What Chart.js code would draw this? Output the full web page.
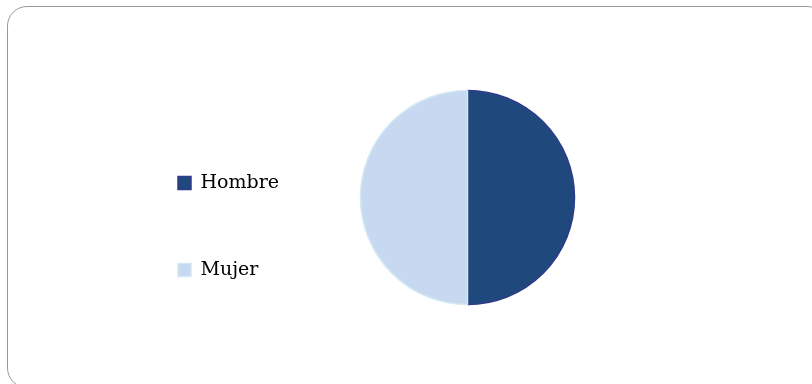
<!DOCTYPE html>
<html>
<head>
  <script src="https://cdn.jsdelivr.net/npm/chart.js"></script>
  <style>
    body { margin: 0; background: #fff; overflow: hidden; }
    #frame {
      position: absolute; left: 7px; top: 6px; width: 818px; height: 380px;
      border: 1px solid #9a9a9a; border-radius: 20px;
    }
    #chartCanvas { position: absolute; left: 0; top: 0; }
  </style>
</head>
<body>
  <div id="frame"></div>
  <canvas id="chartCanvas" width="812" height="384"></canvas>

  <script>
    // Chart data
    var categories = ['Hombre', 'Mujer'];
    var shares = [50, 50];
    var fillColors = ['#1f497d', '#c6d9f1'];
    var edgeColors = ['#2e3a8c', '#d3e9f3'];

    document.addEventListener('DOMContentLoaded', function() {
      var canvas = document.getElementById('chartCanvas');

      new Chart(canvas, {
        type: 'pie',
        data: {
          labels: categories,
          datasets: [{
            data: shares,
            backgroundColor: fillColors,
            borderColor: edgeColors,
            borderWidth: 1.5,
            clip: false
          }]
        },
        options: {
          responsive: false,
          animation: false,
          radius: 107,
          layout: {
            // legend sits at the bottom of its column, pie stays centred
            padding: { left: 110, right: 166, top: 47.5, bottom: 36.5 }
          },
          plugins: {
            tooltip: { enabled: false },
            legend: {
              position: 'left',
              align: 'end',
              labels: {
                boxWidth: 13,
                boxHeight: 13,
                padding: 68,
                color: '#000',
                font: { family: 'DejaVu Serif', size: 19 }
              }
            }
          }
        }
      });
    });
  </script>
</body>
</html>
